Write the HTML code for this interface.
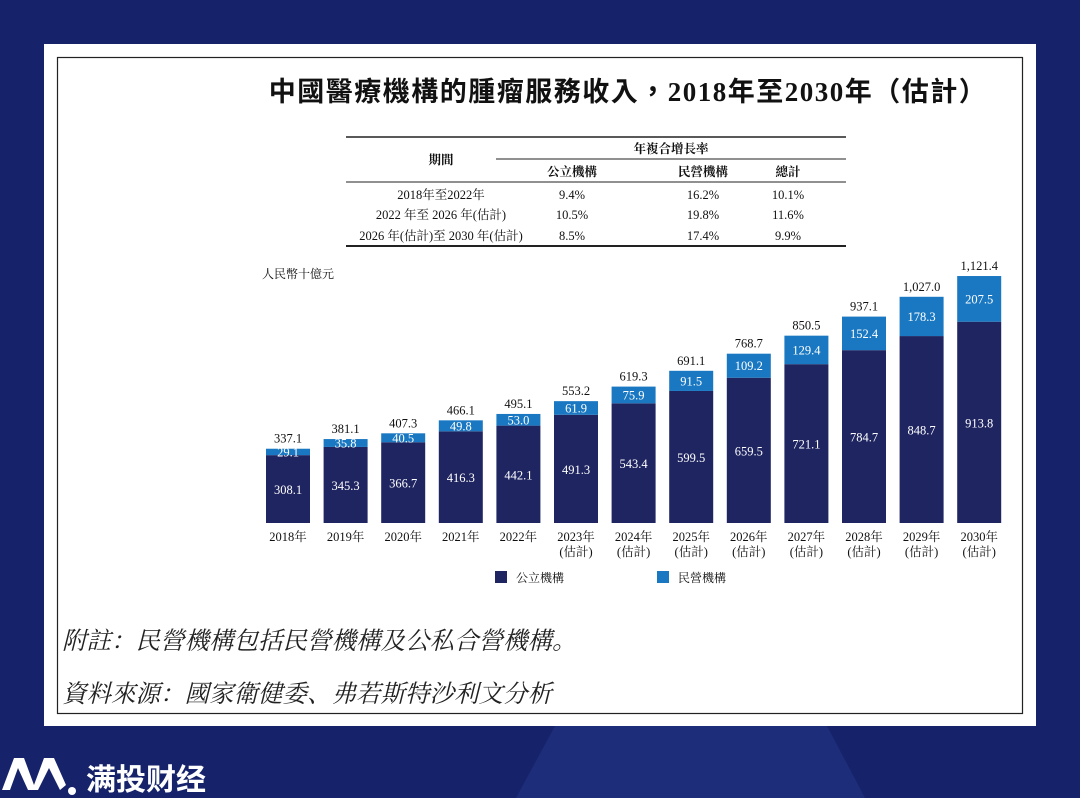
<!DOCTYPE html>
<html><head><meta charset="utf-8">
<style>
body{margin:0;width:1080px;height:798px;background:#16236a;overflow:hidden;position:relative;font-family:"Liberation Serif","Noto Serif CJK SC","Noto Sans CJK TC",serif}
svg{position:absolute;left:0;top:0}
</style></head>
<body>
<svg width="1080" height="798">
<polygon points="555,726 827,726 865,798 516,798" fill="#1d2d7a"/>
<rect x="44" y="44" width="992" height="682" fill="#fff"/>
<rect x="57.5" y="57.5" width="965" height="656" fill="none" stroke="#222" stroke-width="1.2"/>
<text x="628" y="101" text-anchor="middle" font-size="27" font-weight="bold" fill="#111" letter-spacing="1.5" font-family="Liberation Serif,Noto Sans CJK TC,sans-serif">中國醫療機構的腫瘤服務收入，2018年至2030年（估計）</text>
<g font-size="12.5" fill="#111">
<line x1="346" y1="137" x2="846" y2="137" stroke="#222" stroke-width="1.5"/>
<line x1="496" y1="159" x2="846" y2="159" stroke="#222" stroke-width="1"/>
<line x1="346" y1="182" x2="846" y2="182" stroke="#222" stroke-width="1"/>
<line x1="346" y1="246" x2="846" y2="246" stroke="#222" stroke-width="2"/>
<text x="441" y="164" text-anchor="middle" font-weight="bold">期間</text>
<text x="671" y="153" text-anchor="middle" font-weight="bold">年複合增長率</text>
<text x="572" y="176" text-anchor="middle" font-weight="bold">公立機構</text>
<text x="703" y="176" text-anchor="middle" font-weight="bold">民營機構</text>
<text x="788" y="176" text-anchor="middle" font-weight="bold">總計</text>
<text x="441" y="199" text-anchor="middle">2018年至2022年</text>
<text x="441" y="219" text-anchor="middle">2022 年至 2026 年(估計)</text>
<text x="441" y="240" text-anchor="middle">2026 年(估計)至 2030 年(估計)</text>
<text x="572" y="199" text-anchor="middle">9.4%</text><text x="703" y="199" text-anchor="middle">16.2%</text><text x="788" y="199" text-anchor="middle">10.1%</text>
<text x="572" y="219" text-anchor="middle">10.5%</text><text x="703" y="219" text-anchor="middle">19.8%</text><text x="788" y="219" text-anchor="middle">11.6%</text>
<text x="572" y="240" text-anchor="middle">8.5%</text><text x="703" y="240" text-anchor="middle">17.4%</text><text x="788" y="240" text-anchor="middle">9.9%</text>
</g>
<text x="262" y="278" font-size="12" fill="#111">人民幣十億元</text>
<g id="bars"></g>
<g font-size="12" fill="#111">
<rect x="495" y="571" width="12" height="12" fill="#1f2560"/>
<text x="516" y="582">公立機構</text>
<rect x="657" y="571" width="12" height="12" fill="#1a78c2"/>
<text x="678" y="582">民營機構</text>
</g>
<text x="62" y="649" font-size="24.5" font-style="italic" fill="#222">附註：民營機構包括民營機構及公私合營機構。</text>
<text x="62" y="702" font-size="24.5" font-style="italic" fill="#222">資料來源：國家衛健委、弗若斯特沙利文分析</text>
<g fill="#fff">
<path d="M2,790 L14,758 L24,758 L34,785 L44,758 L54,758 L66,785 L60,790 L49,768 L38,790 L28,790 L18,768 L10,790Z"/>
<circle cx="72" cy="791" r="4"/>
<text x="86" y="790" font-size="30" font-weight="bold" font-family="Noto Sans CJK SC,sans-serif">满投财经</text>
</g>
</svg>
<script>
const years=["2018年","2019年","2020年","2021年","2022年","2023年","2024年","2025年","2026年","2027年","2028年","2029年","2030年"];
const publicVals=[308.1,345.3,366.7,416.3,442.1,491.3,543.4,599.5,659.5,721.1,784.7,848.7,913.8];
const privateVals=[29.1,35.8,40.5,49.8,53.0,61.9,75.9,91.5,109.2,129.4,152.4,178.3,207.5];
const totals=["337.1","381.1","407.3","466.1","495.1","553.2","619.3","691.1","768.7","850.5","937.1","1,027.0","1,121.4"];
const estimated=[false,false,false,false,false,true,true,true,true,true,true,true,true];
const NS="http://www.w3.org/2000/svg";
const g=document.getElementById('bars');
const base=523, k=247/1121.4;
const xc=i=>288+i*57.6, y=v=>base-v*k;
function mk(tag,attrs,txt){const e=document.createElementNS(NS,tag);for(const a in attrs)e.setAttribute(a,attrs[a]);if(txt!=null)e.textContent=txt;g.appendChild(e);return e;}
years.forEach((yr,i)=>{
  const p=publicVals[i], q=privateVals[i], x=xc(i)-22;
  let r=mk('rect',{x:x,y:y(p),width:44,height:p*k,fill:'#1f2560'});
  
  
  r=mk('rect',{x:x,y:y(p+q),width:44,height:q*k,fill:'#1a78c2'});
  
  
  let t=mk('text',{x:xc(i),y:y(p/2)+5,'text-anchor':'middle','font-size':12.5,fill:'#fff'},p.toFixed(1));
  
  
  t=mk('text',{x:xc(i),y:y(p+q/2)+4.5,'text-anchor':'middle','font-size':12.5,fill:'#fff'},q.toFixed(1));
  
  
  t=mk('text',{x:xc(i),y:y(p+q)-6,'text-anchor':'middle','font-size':12.5,fill:'#111'},totals[i]);
  
  
  t=mk('text',{x:xc(i),y:541,'text-anchor':'middle','font-size':12.5,fill:'#111'},yr);
  
  
  if(estimated[i]){
    t=mk('text',{x:xc(i),y:556,'text-anchor':'middle','font-size':12.5,fill:'#111'},'(估計)');
    
    
  }
});
</script>
</body></html>
